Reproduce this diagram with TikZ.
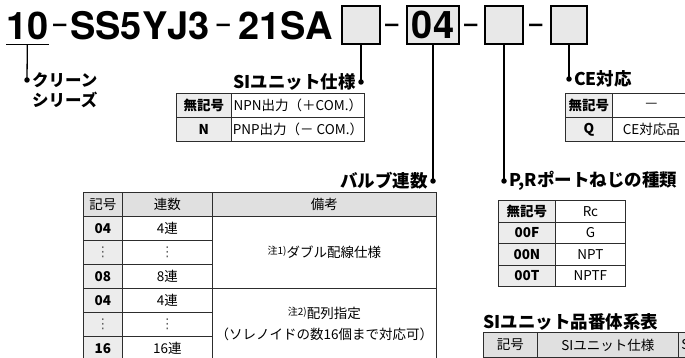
\documentclass[tikz,border=0pt]{standalone}
\usepackage{fontspec}
\usetikzlibrary{positioning}
\newfontfamily\jpfont{Noto Sans CJK JP}
\newfontfamily\headfont{TeX Gyre Heros}
\newfontfamily\symfont{DejaVu Sans}
\definecolor{slotgray}{RGB}{232, 232, 232}
\definecolor{headgray}{RGB}{224, 224, 224}
\definecolor{keygray}{RGB}{236, 236, 236}
\definecolor{rulegray}{RGB}{45, 45, 45}
\definecolor{dotsgray}{RGB}{90, 90, 90}
\newcommand\vdotsmark{{\symfont\mdseries\color{dotsgray}⋮}}
\newcommand\notemark[1]{\raisebox{3pt}{\fontsize{10}{10}\selectfont #1}}
\tikzset{
  headtext/.style={
    font=\headfont\bfseries\fontsize{38}{38}\selectfont,
    inner sep=0pt
  },
  dashmark/.style={
    font=\headfont\bfseries\fontsize{23.5}{24}\selectfont,
    inner sep=0pt, anchor=base
  },
  slotbox/.style={
    rectangle, draw=black, line width=1.2pt, fill=slotgray,
    minimum width=38pt, minimum height=38pt, inner sep=0pt
  },
  lead/.style={
    line width=1.3pt, color=black
  },
  leaddot/.style={
    circle, fill=black, inner sep=0pt, minimum size=5.5pt
  },
  grouptitle/.style={
    font=\jpfont\bfseries\fontsize{17.5}{20}\selectfont,
    inner sep=0pt
  },
  cell/.style={
    rectangle, draw=rulegray, line width=0.8pt,
    inner sep=0pt, anchor=north west,
    font=\jpfont\fontsize{13.5}{16}\selectfont
  },
  keycell/.style={
    cell, fill=keygray,
    font=\jpfont\bfseries\fontsize{13.5}{16}\selectfont
  },
  headcell/.style={
    cell, fill=headgray
  }
}
\begin{document}
\begin{tikzpicture}[x=1pt, y=-1pt]
  \useasboundingbox (0,0) rectangle (685,358);
  \clip (0,0) rectangle (685,358);

  % ── Part number ─────────────────────────────────────────────
  \node[headtext, anchor=base west, inner ysep=4pt] (n10) at (6,40) {10};
  \node[dashmark] (dash1) at (60,31.5)  {–};
  \node[headtext, anchor=base] (nbase) at (140,40) {SS5YJ3};
  \node[dashmark] (dash2) at (223.5,31.5) {–};
  \node[headtext, anchor=base] (nsuffix) at (285.5,40) {21SA};

  % ── Option slots ────────────────────────────────────────────
  \node[slotbox] (slot1) at (361,25) {};
  \node[dashmark] (dash3) at (392,31.5) {–};
  \node[slotbox, minimum width=52pt, headtext] (slot2) at (433,25) {04};
  \node[dashmark] (dash4) at (471,31.5) {–};
  \node[slotbox] (slot3) at (504,25) {};
  \node[dashmark] (dash5) at (536,31.5) {–};
  \node[slotbox, minimum width=36pt] (slot4) at (569,25) {};

  % ── Lead dots ───────────────────────────────────────────────
  \node[leaddot] (d10)    at (27,80)   {};
  \node[leaddot] (dsi)    at (361,82)  {};
  \node[leaddot] (dvalve) at (433,181) {};
  \node[leaddot] (dport)  at (504,181) {};
  \node[leaddot] (dce)    at (569,79)  {};

  % ── Lead lines ──────────────────────────────────────────────
  \draw[lead] (n10.south west) -- (n10.south east);
  \draw[lead] (n10.south)   -- (d10.center);
  \draw[lead] (slot1.south) -- (dsi.center);
  \draw[lead] (slot2.south) -- (dvalve.center);
  \draw[lead] (slot3.south) -- (dport.center);
  \draw[lead] (slot4.south) -- (dce.center);

  % ── Group titles ────────────────────────────────────────────
  \node[grouptitle, font=\jpfont\bfseries\fontsize{16.5}{20}\selectfont,
        anchor=west] (tser1) at ([xshift=5pt]d10.center) {クリーン};
  \node[grouptitle, font=\jpfont\bfseries\fontsize{16.5}{20}\selectfont,
        anchor=north west] (tser2) at ([yshift=-4pt]tser1.south west) {シリーズ};
  \node[grouptitle, left=2pt of dsi]    (tsi)    {SIユニット仕様};
  \node[grouptitle, left=2pt of dvalve] (tvalve) {バルブ連数};
  \node[grouptitle, right=2pt of dport] (tport)  {P,Rポートねじの種類};
  \node[grouptitle, right=2pt of dce]   (tce)    {CE対応};
  \node[grouptitle, anchor=west] (tsys) at (483,322) {SIユニット品番体系表};

  % ── SI unit table ───────────────────────────────────────────
  \foreach \code/\spec [count=\i] in {無記号/NPN出力（＋COM.）, N/PNP出力（－ COM.）} {
    \node[keycell, minimum width=55pt, minimum height=24pt] (si-k\i) at (176,69+24*\i) {\code};
    \node[cell, minimum width=133pt, minimum height=24pt] (si-v\i) at (231,69+24*\i) {\spec};
  }

  % ── CE table ────────────────────────────────────────────────
  \foreach \code/\spec [count=\i] in {無記号/—, Q/CE対応品} {
    \node[keycell, minimum width=47pt, minimum height=24pt] (ce-k\i) at (565,69+24*\i) {\code};
    \node[cell, minimum width=78pt, minimum height=24pt] (ce-v\i) at (612,69+24*\i) {\spec};
  }

  % ── Valve station table ─────────────────────────────────────
  \node[headcell, minimum width=39pt,  minimum height=24pt] (vh1) at (83,192)  {記号};
  \node[headcell, minimum width=90pt,  minimum height=24pt] (vh2) at (122,192) {連数};
  \node[headcell, minimum width=224pt, minimum height=24pt] (vh3) at (212,192) {備考};
  \foreach \code/\spec [count=\i] in {04/4連, \vdotsmark/\vdotsmark, 08/8連,
                                      04/4連, \vdotsmark/\vdotsmark, 16/16連} {
    \node[keycell, minimum width=39pt, minimum height=24pt] (v-k\i) at (83,192+24*\i)  {\code};
    \node[cell,    minimum width=90pt, minimum height=24pt] (v-v\i) at (122,192+24*\i) {\spec};
  }
  \node[cell, minimum width=224pt, minimum height=72pt] (vnote1) at (212,216)
    {\notemark{注1)}ダブル配線仕様};
  \node[cell, minimum width=224pt, minimum height=72pt, align=center,
        font=\jpfont\fontsize{13.5}{21}\selectfont] (vnote2) at (212,288)
    {\notemark{注2)}配列指定\\（ソレノイドの数16個まで対応可）};

  % ── Port thread table ───────────────────────────────────────
  \foreach \code/\spec [count=\i] in {無記号/Rc, 00F/G, 00N/NPT, 00T/NPTF} {
    \node[keycell, minimum width=57pt, minimum height=21.5pt] (p-k\i) at (498,178.5+21.5*\i) {\code};
    \node[cell,    minimum width=70pt, minimum height=21.5pt] (p-v\i) at (555,178.5+21.5*\i) {\spec};
  }

  % ── SI unit part number table ───────────────────────────────
  \node[headcell, minimum width=54pt,  minimum height=25pt] (sh1) at (483,332) {記号};
  \node[headcell, minimum width=141pt, minimum height=25pt] (sh2) at (537,332) {SIユニット仕様};
  \node[headcell, minimum height=25pt, text width=36pt, inner xsep=3pt,
        align=left] (sh3) at (678,332) {S};

\end{tikzpicture}
\end{document}
